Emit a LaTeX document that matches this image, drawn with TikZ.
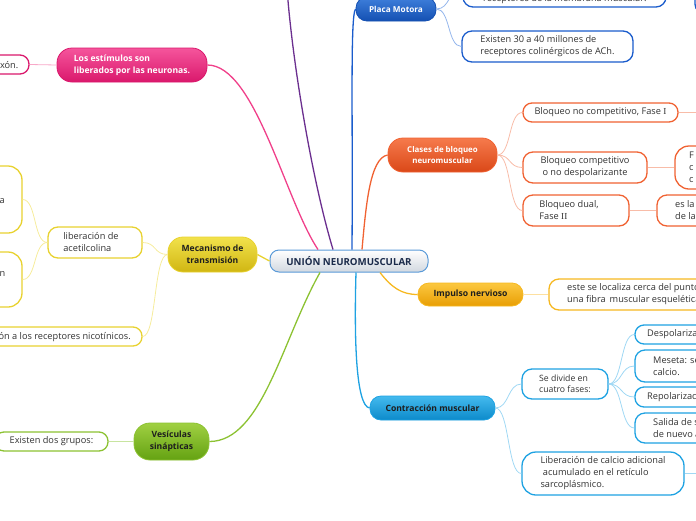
\documentclass[tikz,border=0pt]{standalone}
\usepackage{fontspec}
\setmainfont{Open Sans}
\newfontfamily\romanI{Liberation Serif}
\usetikzlibrary{calc}
\definecolor{txt}{HTML}{333333}
\definecolor{ttl}{HTML}{1E1E1E}
\definecolor{pinkT}{HTML}{F5559C}\definecolor{pinkB}{HTML}{DA186C}\definecolor{pinkL}{HTML}{F0408A}\definecolor{pinkS}{HTML}{F8A8C8}
\definecolor{purpL}{HTML}{6B2F8F}
\definecolor{dblT}{HTML}{3F80DC}\definecolor{dblB}{HTML}{1450B2}\definecolor{dblL}{HTML}{1A5CCC}\definecolor{dblS}{HTML}{94B6EC}
\definecolor{orT}{HTML}{F67A4C}\definecolor{orB}{HTML}{DA4818}\definecolor{orL}{HTML}{F06232}\definecolor{orS}{HTML}{F8BCA8}
\definecolor{gdT}{HTML}{FCC840}\definecolor{gdB}{HTML}{E89E04}\definecolor{gdL}{HTML}{F6B820}\definecolor{gdS}{HTML}{FDE0A0}
\definecolor{lbT}{HTML}{44BAEE}\definecolor{lbB}{HTML}{0C8ACA}\definecolor{lbL}{HTML}{1EA2E2}\definecolor{lbS}{HTML}{A0D8F4}
\definecolor{ylT}{HTML}{F2E24C}\definecolor{ylB}{HTML}{D0B612}\definecolor{ylL}{HTML}{E8D230}\definecolor{ylS}{HTML}{F6EC9C}
\definecolor{grT}{HTML}{A0D042}\definecolor{grB}{HTML}{64A212}\definecolor{grL}{HTML}{8CC232}\definecolor{grS}{HTML}{C8E4A0}
\definecolor{cenB}{HTML}{D2D8E0}\definecolor{cenD}{HTML}{5A9AD8}\definecolor{cenT}{HTML}{1A2A4A}
\tikzset{
  childfont/.style={font=\fontsize{9.2}{12}\selectfont},
  cbox/.style={draw=#1, line width=1.3pt, fill=white, rounded corners=10pt, inner sep=0pt, align=left, childfont, text=txt},
  sbox/.style={cbox=#1, rounded corners=9pt},
  ctext/.style={inner sep=0pt, align=left, childfont, text=txt},
  title/.style n args={3}{draw=#3, line width=0.8pt, top color=#1, bottom color=#2, rounded corners=11pt, inner sep=0pt, align=center, font=\bfseries\fontsize{8.6}{12}\selectfont, text=ttl},
  mainline/.style={draw=#1, line width=1.3pt},
  subline/.style={draw=#1, line width=0.8pt}
}
\begin{document}
\begin{tikzpicture}[x=1pt,y=-1pt]
\useasboundingbox (0,0) rectangle (696,520);
\clip (0,0) rectangle (696,520);

% central node
\node[draw=cenD, line width=1pt, top color=white, bottom color=cenB, rounded corners=9pt, minimum width=158pt, minimum height=22pt, inner sep=0pt, font=\bfseries\fontsize{9.7}{12}\selectfont, text=cenT] (center) at (349,261) {UNIÓN NEUROMUSCULAR};

% pink branch
\node[title={pinkT}{pinkB}{pinkB}, text=white, align=left, rounded corners=15pt, minimum width=150pt, minimum height=34pt, font=\bfseries\fontsize{8.6}{12}\selectfont] (pink) at (132,65) {Los estímulos son\\liberados por las neuronas.};
\node[sbox=pinkB, minimum width=88pt, minimum height=19pt] (pinkc) at (-15,64.5) {};
\node[ctext, anchor=east] (pinkct) at (18.5,65) {axón.};

% purple branch (off the top)
\coordinate (purpoff) at (287,-12);

% Placa Motora
\node[title={dblT}{dblB}{dblB}, text=white, minimum width=80pt, minimum height=24pt, font=\bfseries\fontsize{8.2}{12}\selectfont] (pm) at (396,9) {Placa Motora};
\node[cbox=dblL, minimum width=203pt, minimum height=37pt] (pm1) at (564.5,-11.5) {};
\node[ctext, anchor=west] (pm1t) at (483,-0.5) {receptores de la membrana muscular.};
\node[cbox=dblL, minimum width=120pt, minimum height=54pt] (pm3) at (755,-13) {};
\node[cbox=dblL, minimum width=171pt, minimum height=31pt] (pm2) at (547.5,46.5) {Existen 30 a 40 millones de\\receptores colinérgicos de ACh.};

% Clases de bloqueo
\node[title={orT}{orB}{orL}, text=white, rounded corners=15pt, minimum width=109pt, minimum height=34pt, font=\bfseries\fontsize{7.9}{11.5}\selectfont] (clases) at (442.5,155) {Clases de bloqueo\\neuromuscular};
\node[sbox=orL, minimum width=155pt, minimum height=19pt] (c1) at (600.5,112.5) {Bloqueo no competitivo, Fase {\romanI I}};
\coordinate (c1off) at (705,112.5);
\node[cbox=orL, align=center, minimum width=124pt, minimum height=31pt] (c2) at (585,167.5) {Bloqueo competitivo\\o no despolarizante};
\node[cbox=orL, rounded corners=14pt, minimum width=100pt, minimum height=43pt] (c2b) at (725,167.5) {};
\node[ctext, anchor=west] (c2bt) at (689,167.5) {F\\c\\c};
\node[cbox=orL, minimum width=106pt, minimum height=31pt] (c3) at (576,210.5) {Bloqueo dual,\hspace{14pt}\null\\Fase {\romanI II}};
\node[cbox=orL, minimum width=100pt, minimum height=31pt] (c3b) at (707,210.5) {};
\node[ctext, anchor=west] (c3bt) at (675,210.5) {es la\\de la};

% Impulso nervioso
\node[title={gdT}{gdB}{gdL}, minimum width=105pt, minimum height=23pt] (imp) at (470.5,294.5) {Impulso nervioso};
\node[cbox=gdL, minimum width=260pt, minimum height=31pt] (impc) at (679,294.5) {};
\node[ctext, anchor=west] (impct) at (567,294.5) {este se localiza cerca del punto medio de\\una fibra\, muscular esquelética.};

% Contraccion muscular
\node[title={lbT}{lbB}{lbL}, minimum width=125pt, minimum height=24pt] (con) at (432.5,408) {Contracción muscular};
\node[cbox=lbL, minimum width=86pt, minimum height=30pt, font=\fontsize{8.7}{11}\selectfont] (sd) at (565,384) {Se divide en\\cuatro fases:};
\node[cbox=lbL, rounded corners=14pt, minimum width=162pt, minimum height=43pt] (lib) at (603,473.5) {Liberación de calcio adicional\\\ acumulado en el retículo\\sarcoplásmico.};
\coordinate (liboff) at (705,473.5);
\node[sbox=lbL, minimum width=130pt, minimum height=19pt] (f1) at (700,334.5) {};
\node[ctext, anchor=west] (f1t) at (647,334.5) {Despolarización};
\node[cbox=lbL, minimum width=130pt, minimum height=32pt] (f2) at (700,366) {};
\node[ctext, anchor=west] (f2t) at (653,366) {Meseta: se libera\\calcio.};
\node[sbox=lbL, minimum width=130pt, minimum height=20pt] (f3) at (700,397) {};
\node[ctext, anchor=west] (f3t) at (647,397) {Repolarización};
\node[cbox=lbL, minimum width=130pt, minimum height=30pt] (f4) at (700,428) {};
\node[ctext, anchor=west] (f4t) at (653,428) {Salida de sodio\\de nuevo al};

% Mecanismo de transmision
\node[title={ylT}{ylB}{ylL}, rounded corners=15pt, minimum width=89pt, minimum height=35pt] (mec) at (212.5,254.5) {Mecanismo de\\transmisión};
\node[cbox=ylL, minimum width=94pt, minimum height=31pt] (lac) at (95,242.5) {liberación de\hspace{8pt}\null\\acetilcolina};
\node[cbox=ylL, rounded corners=14pt, minimum width=82pt, minimum height=67pt] (L1) at (-19,199.5) {};
\node[ctext, anchor=west] (L1t) at (-0.5,201) {a};
\node[cbox=ylL, rounded corners=14pt, minimum width=82pt, minimum height=55pt] (L2) at (-19,279.5) {};
\node[ctext, anchor=west] (L2t) at (-0.5,274) {n};
\node[sbox=ylL, minimum width=300pt, minimum height=19pt] (nic) at (-8,336.5) {};
\node[ctext, anchor=east] (nict) at (131,337) {unión a los receptores nicotínicos.};

% Vesiculas sinapticas
\node[title={grT}{grB}{grL}, rounded corners=16pt, minimum width=75pt, minimum height=37pt] (ves) at (171.5,441.5) {Vesículas\\sinápticas};
\node[sbox=grL, minimum width=113pt, minimum height=19pt] (edg) at (51.5,441.5) {Existen dos grupos:};

% main connectors
\draw[mainline=purpL] ($(center.north)+(-16,0)$) .. controls (312,180) and (292,60) .. (purpoff);
\draw[mainline=pinkL] ($(center.north)+(-31,0)$) .. controls (285,200) and (255,65) .. (pink.east);
\draw[mainline=dblL] ($(center.north)+(3,0)$) .. controls (353,120) and (350,15) .. (pm.west);
\draw[mainline=orL] ($(center.north)+(13,0)$) .. controls (366,205) and (370,158) .. (clases.west);
\draw[mainline=gdL] ($(center.south)+(31,0)$) .. controls (392,288) and (402,294.5) .. (imp.west);
\draw[mainline=lbL] ($(center.south)+(7,0)$) .. controls (354,340) and (356,406) .. (con.west);
\draw[mainline=ylL] (center.west) -- (mec.east);
\draw[mainline=grL] ($(center.south)+(-29,0)$) .. controls (282,340) and (262,441.5) .. (ves.east);

% sub connectors
\draw[subline=pinkS] (pink.west) -- (pinkc.east);
\draw[subline=dblS] (pm.east) .. controls +(14,0) and +(-14,0) .. (pm1.west);
\draw[subline=dblS] (pm.east) .. controls +(14,0) and +(-14,0) .. (pm2.west);
\draw[subline=dblS] (pm1.east) -- (pm3.west |- pm1.east);
\draw[subline=orS] (clases.east) .. controls +(14,0) and +(-14,0) .. (c1.west);
\draw[subline=orS] (clases.east) .. controls +(14,0) and +(-14,0) .. (c2.west);
\draw[subline=orS] (clases.east) .. controls +(14,0) and +(-14,0) .. (c3.west);
\draw[subline=orS] (c1.east) -- (c1off);
\draw[subline=orS] (c2.east) -- (c2b.west);
\draw[subline=orS] (c3.east) -- (c3b.west);
\draw[subline=gdS] (imp.east) -- (impc.west);
\draw[subline=lbS] (con.east) .. controls +(14,0) and +(-14,0) .. (sd.west);
\draw[subline=lbS] (con.east) .. controls +(14,0) and +(-14,0) .. (lib.west);
\draw[subline=lbS] (lib.east) -- (liboff);
\draw[subline=lbS] (sd.east) .. controls +(14,0) and +(-14,0) .. (f1.west);
\draw[subline=lbS] (sd.east) .. controls +(14,0) and +(-14,0) .. (f2.west);
\draw[subline=lbS] (sd.east) .. controls +(14,0) and +(-14,0) .. (f3.west);
\draw[subline=lbS] (sd.east) .. controls +(14,0) and +(-14,0) .. (f4.west);
\draw[subline=ylS] (mec.west) .. controls +(-14,0) and +(14,0) .. (lac.east);
\draw[subline=ylS] (mec.west) .. controls +(-14,0) and +(14,0) .. (nic.east);
\draw[subline=ylS] (lac.west) .. controls +(-14,0) and +(14,0) .. (L1.east);
\draw[subline=ylS] (lac.west) .. controls +(-14,0) and +(14,0) .. (L2.east);
\draw[subline=grS] (ves.west) -- (edg.east);
\end{tikzpicture}
\end{document}
